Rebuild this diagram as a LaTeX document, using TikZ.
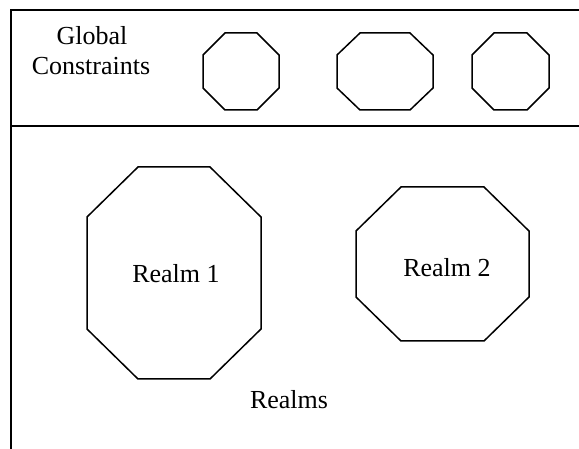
\documentclass[tikz,border=0pt]{standalone}
\usepackage{fontspec}
\setmainfont{Liberation Serif}
\newfontfamily\labelfont{Liberation Serif}
% octagon from its bounding box (left, top, right, bottom) and corner cuts (x, y)
\newcommand\octagonbox[6]{%
  \draw[outline] (#1+#5,#2) -- (#3-#5,#2) -- (#3,#2+#6) -- (#3,#4-#6)
    -- (#3-#5,#4) -- (#1+#5,#4) -- (#1,#4-#6) -- (#1,#2+#6) -- cycle;}
\begin{document}
\begin{tikzpicture}[x=1pt,y=-1pt,
  outline/.style={line width=1.5pt,line join=miter},
  frame/.style={line width=1.8pt},
  lbl/.style={font=\labelfont\fontsize{26}{30}\selectfont,inner sep=0pt,anchor=base}]
  \useasboundingbox (0,0) rectangle (579,449);

  % frame of the two panels
  \draw[frame] (579,10) -- (11,10) -- (11,449);
  \draw[frame] (11,126) -- (579,126);

  % global constraints panel
  \node[lbl] (gtitle1) at (92,45) {Global};
  \node[lbl] (gtitle2) at (91,75) {Constraints};
  \octagonbox{203}{33}{279}{110}{22}{22}
  \octagonbox{337}{33}{433}{110}{23}{22}
  \octagonbox{472}{33}{549}{110}{22}{22}

  % realms panel
  \octagonbox{87}{167}{261}{379}{51}{50}
  \octagonbox{356}{187}{529}{341}{45}{44}
  \node[lbl] (realm1) at (176,283) {Realm 1};
  \node[lbl] (realm2) at (447,277) {Realm 2};
  \node[lbl] (realms) at (289,409) {Realms};
\end{tikzpicture}
\end{document}
